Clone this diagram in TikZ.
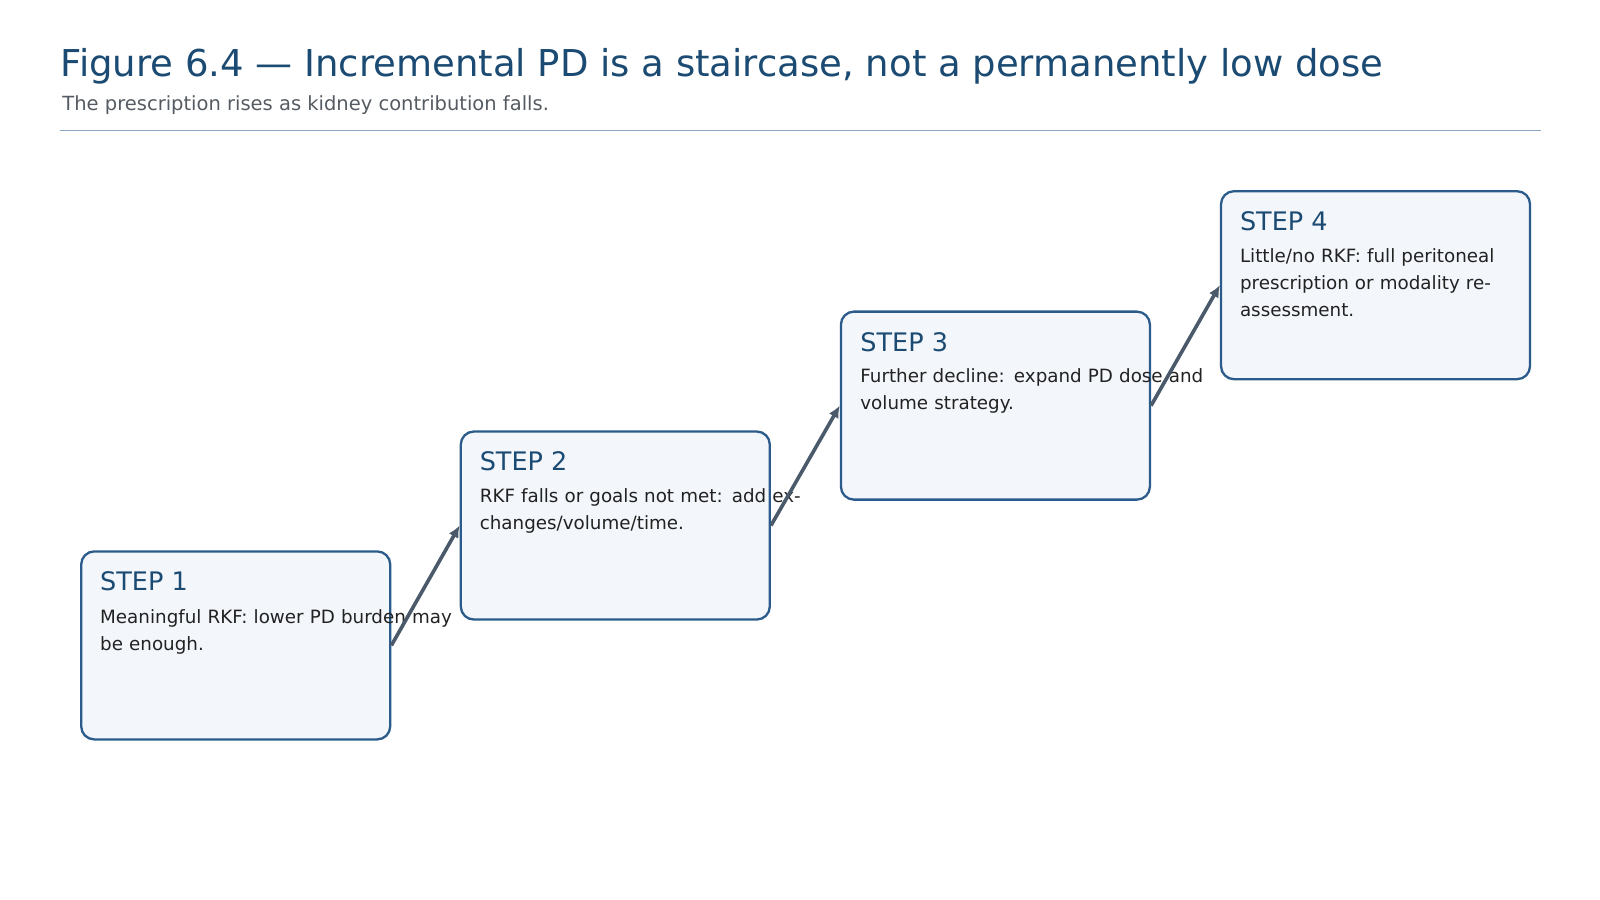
\documentclass[tikz,border=0pt]{standalone}
\usepackage{fontspec}
\setmainfont{DejaVu Sans}
\usetikzlibrary{arrows.meta}
\definecolor{ttl}{HTML}{1B4A72}
\definecolor{sub}{HTML}{555B62}
\definecolor{rul}{HTML}{8AA8C4}
\definecolor{bfill}{HTML}{F3F6FB}
\definecolor{bline}{HTML}{2B5B8A}
\definecolor{arr}{HTML}{4A5A6A}
\definecolor{body}{HTML}{222222}
\begin{document}
\begin{tikzpicture}[x=1.0204pt,y=-1.0204pt,
  box/.style={draw=bline,fill=bfill,line width=2.3pt,rounded corners=13pt,minimum width=309pt,minimum height=188pt,inner sep=0pt},
  lab/.style={anchor=base west,text=ttl,font=\fontsize{25.5}{30}\selectfont,inner sep=0pt},
  txt/.style={anchor=north west,text=body,font=\fontsize{18.3}{27}\selectfont,text width=380pt,align=left,inner sep=0pt},
  con/.style={draw=arr,line width=3.6pt,-{Latex[length=12pt,width=11pt]}}]
\useasboundingbox (0,0) rectangle (1568,882);
\node[anchor=base west,text=ttl,font=\fontsize{37}{42}\selectfont,inner sep=0pt] (title) at (59,75) {Figure 6.4 — Incremental PD is a staircase, not a permanently low dose};
\node[anchor=base west,text=sub,font=\fontsize{19.5}{22}\selectfont,inner sep=0pt] (subt) at (61,108) {The prescription rises as kidney contribution falls.};
\draw[rul,line width=1.2pt] (59,128) coordinate (r1) -- (1510,128) coordinate (r2);
\node[box] (b1) at (231,632.5) {};
\node[box] (b2) at (603,515) {};
\node[box] (b3) at (975.5,397.5) {};
\node[box] (b4) at (1348,279.5) {};
\node[lab] (l1) at (98,579) {STEP 1};
\node[lab] (l2) at (470,461) {STEP 2};
\node[lab] (l3) at (843,344) {STEP 3};
\node[lab] (l4) at (1215,226) {STEP 4};
\node[txt] (t1) at (98,597) {\hyphenpenalty=10000 Meaningful RKF: lower PD burden may be enough.};
\node[txt] (t2) at (470,479) {\hyphenpenalty=10000 RKF falls or goals not met: add exchanges/volume/time.};
\node[txt] (t3) at (843,361) {\hyphenpenalty=10000 Further decline: expand PD dose and volume strategy.};
\node[txt,text width=270pt] (t4) at (1215,243) {\hyphenpenalty=10000 Little/no RKF: full peritoneal prescription or modality reassessment.};
\draw[con] (b1.east) -- (b2.west);
\draw[con] (b2.east) -- (b3.west);
\draw[con] (b3.east) -- (b4.west);
\end{tikzpicture}
\end{document}
